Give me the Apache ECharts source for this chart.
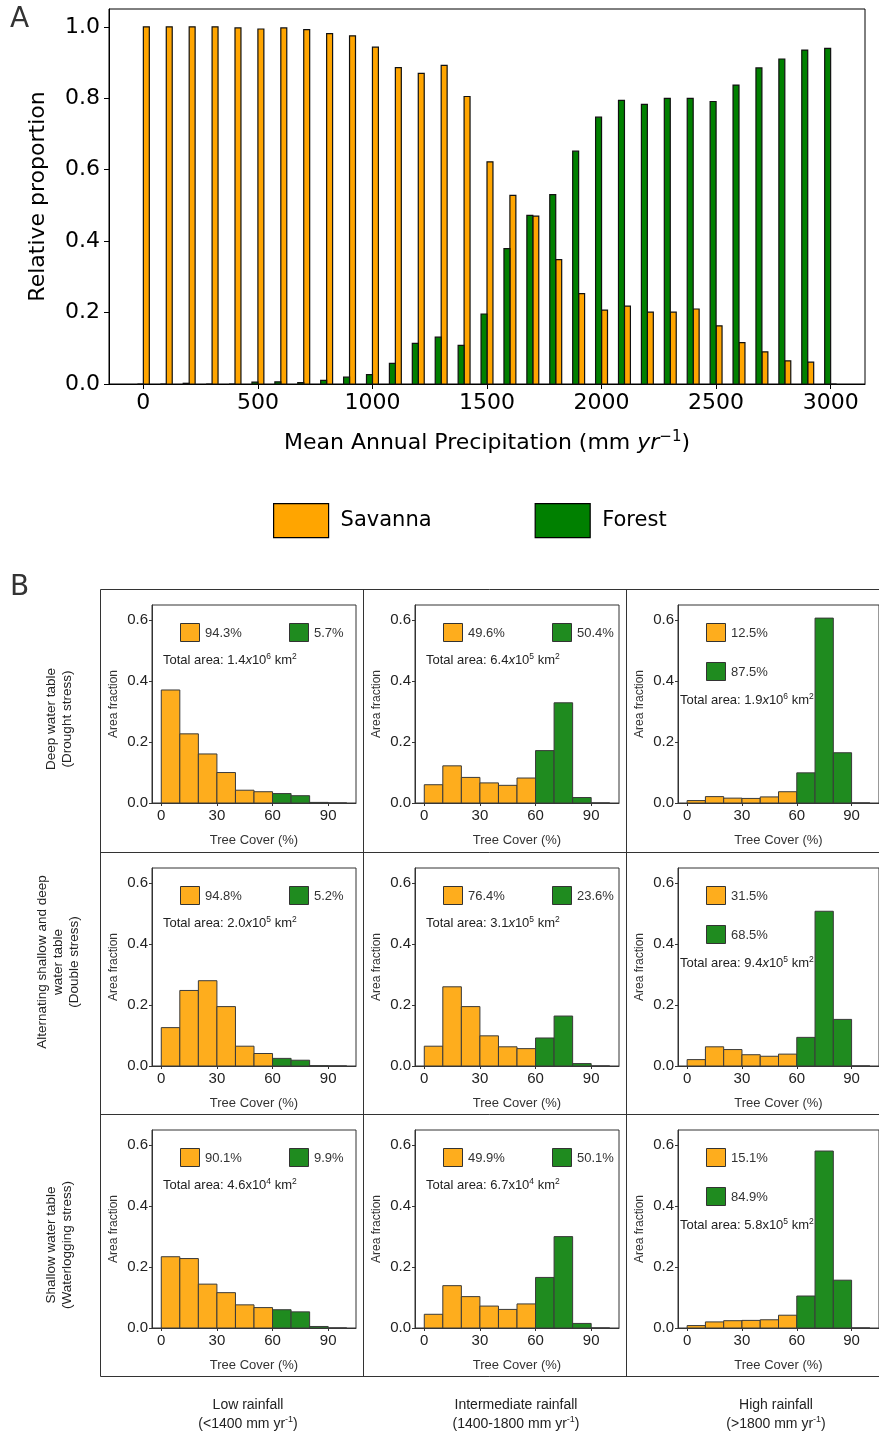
<!DOCTYPE html>
<html><head><meta charset="utf-8">
<script src="https://cdn.jsdelivr.net/npm/echarts@6/dist/echarts.min.js"></script>
<style>html,body{margin:0;padding:0;background:#fff}#c{width:879px;height:1433px}</style>
</head><body><div id="c"></div>
<script>
// ---------- Panel A data ----------
const PRECIP = [0,100,200,300,400,500,600,700,800,900,1000,1100,1200,1300,1400,1500,1600,1700,1800,1900,2000,2100,2200,2300,2400,2500,2600,2700,2800,2900,3000];
const SAVANNA = [1.000,1.000,1.000,1.000,0.997,0.994,0.997,0.992,0.981,0.975,0.943,0.886,0.870,0.892,0.805,0.622,0.528,0.470,0.348,0.253,0.207,0.218,0.201,0.201,0.210,0.163,0.116,0.090,0.065,0.061,0.000];
const FOREST  = [0.000,0.000,0.002,0.000,0.000,0.005,0.006,0.004,0.010,0.019,0.026,0.058,0.114,0.131,0.108,0.196,0.379,0.472,0.530,0.652,0.747,0.794,0.783,0.800,0.800,0.791,0.837,0.885,0.910,0.935,0.940];
const A_X_TICKS = [0,500,1000,1500,2000,2500,3000];
const A_Y_TICKS = [0,0.2,0.4,0.6,0.8,1.0];

// ---------- Panel B data ----------
const TREE_BINS = [0,10,20,30,40,50,60,70,80,90];
const B_X_TICKS = [0,30,60,90];
const B_Y_TICKS = [0,0.2,0.4,0.6];
const DEEP_LOW     = [0.371,0.227,0.161,0.100,0.042,0.037,0.031,0.024,0.002,0];
const DEEP_MID     = [0.060,0.122,0.084,0.066,0.058,0.082,0.172,0.329,0.018,0];
const DEEP_HIGH    = [0.008,0.021,0.016,0.015,0.020,0.037,0.099,0.607,0.165,0];
const DOUBLE_LOW   = [0.126,0.248,0.280,0.195,0.065,0.041,0.025,0.019,0.001,0];
const DOUBLE_MID   = [0.065,0.260,0.195,0.099,0.063,0.057,0.092,0.164,0.008,0];
const DOUBLE_HIGH  = [0.021,0.063,0.054,0.037,0.032,0.039,0.094,0.508,0.153,0];
const SHALLOW_LOW  = [0.234,0.228,0.144,0.116,0.076,0.067,0.060,0.053,0.005,0];
const SHALLOW_MID  = [0.045,0.139,0.103,0.072,0.061,0.079,0.166,0.300,0.015,0];
const SHALLOW_HIGH = [0.008,0.020,0.024,0.025,0.027,0.042,0.105,0.581,0.157,0];
const SAV_PCT = ['94.3%','49.6%','12.5%','94.8%','76.4%','31.5%','90.1%','49.9%','15.1%'];
const FOR_PCT = ['5.7%','50.4%','87.5%','5.2%','23.6%','68.5%','9.9%','50.1%','84.9%'];
const AREA_MANT = ['1.4','6.4','1.9','2.0','3.1','9.4','4.6','6.7','5.8'];
const AREA_EXP  = ['6','5','6','5','5','5','4','4','5'];
const ROW_LABELS = ['Deep water table\n(Drought stress)', 'Alternating shallow and deep\nwater table\n(Double stress)', 'Shallow water table\n(Waterlogging stress)'];
const COL_LABELS_1 = ['Low rainfall','Intermediate rainfall','High rainfall'];
const COL_LABELS_2 = ['(<1400 mm yr','(1400-1800 mm yr','(>1800 mm yr'];

const PANELS = [DEEP_LOW, DEEP_MID, DEEP_HIGH, DOUBLE_LOW, DOUBLE_MID, DOUBLE_HIGH, SHALLOW_LOW, SHALLOW_MID, SHALLOW_HIGH];

// ---------- styling / layout ----------
const FA = 'DejaVu Sans';
const FB = 'Liberation Sans, Arial, sans-serif';
const A_ORANGE = '#FFA500', A_GREEN = '#008000';
const B_ORANGE = '#FEAD1D', B_GREEN = '#1F8B1F';
const COL_LEFT = [152, 415, 678];
const ROW_TOP = [605, 868, 1130];
const GW = 204, GH = 198;

const chart = echarts.init(document.getElementById('c'), null, {renderer:'canvas', width:879, height:1433});

const grids = [{left:109, top:9, width:756, height:375, show:true, borderColor:'#000', borderWidth:1, backgroundColor:'transparent'}];
const xAxes = [{
  gridIndex:0, type:'value', min:-150, max:3150,
  axisLine:{show:true, onZero:false, lineStyle:{color:'#000', width:1}},
  splitLine:{show:false},
  axisTick:{show:true, inside:false, length:5, lineStyle:{color:'#000'}, customValues:A_X_TICKS},
  axisLabel:{customValues:A_X_TICKS, fontSize:22, fontFamily:FA, color:'#000', margin:8, formatter:v=>String(v)},
  name:'{a|Mean Annual Precipitation (mm }{i|yr}{s|−1}{a|)}',
  nameLocation:'middle', nameGap:46,
  nameTextStyle:{rich:{
    a:{fontSize:22, fontFamily:FA, color:'#000', lineHeight:26},
    i:{fontSize:22, fontFamily:FA, fontStyle:'italic', color:'#000', lineHeight:26},
    s:{fontSize:15, fontFamily:FA, color:'#000', lineHeight:15, verticalAlign:'top'}
  }}
}];
const yAxes = [{
  gridIndex:0, type:'value', min:0, max:1.05,
  axisLine:{show:true, onZero:false, lineStyle:{color:'#000', width:1}},
  splitLine:{show:false},
  axisTick:{show:true, inside:false, length:5, lineStyle:{color:'#000'}, customValues:A_Y_TICKS},
  axisLabel:{customValues:A_Y_TICKS, fontSize:22, fontFamily:FA, color:'#000', margin:9, formatter:v=>v.toFixed(1)},
  name:'Relative proportion', nameLocation:'middle', nameGap:60,
  nameTextStyle:{fontSize:22, fontFamily:FA, color:'#000'}
}];

const W = 26;
function aBar(color, left){
  return function(params, api){
    const x = api.value(0), y = api.value(1);
    const x0 = left ? x - W : x, x1 = left ? x : x + W;
    const p0 = api.coord([x0, y]);
    const p1 = api.coord([x1, 0]);
    return {type:'rect', shape:{x:p0[0], y:p0[1], width:p1[0]-p0[0], height:p1[1]-p0[1]},
            style:{fill:color, stroke:'#111', lineWidth:1.2}};
  };
}
const series = [
  {name:'Savanna', type:'custom', xAxisIndex:0, yAxisIndex:0, renderItem:aBar(A_ORANGE,false),
   data:PRECIP.map((p,i)=>[p, SAVANNA[i]]), itemStyle:{color:A_ORANGE}, silent:true},
  {name:'Forest', type:'custom', xAxisIndex:0, yAxisIndex:0, renderItem:aBar(A_GREEN,true),
   data:PRECIP.map((p,i)=>[p, FOREST[i]]), itemStyle:{color:A_GREEN}, silent:true}
];

function bBar(params, api){
  const x = api.value(0), y = api.value(1);
  const p0 = api.coord([x, y]);
  const p1 = api.coord([x + 10, 0]);
  return {type:'rect', shape:{x:p0[0], y:p0[1], width:p1[0]-p0[0], height:p1[1]-p0[1]},
          style:{fill: x < 60 ? B_ORANGE : B_GREEN, stroke:'#3a3a3a', lineWidth:1}};
}

const graphics = [];
graphics.push({type:'text', x:10, y:6, style:{text:'A', fontSize:28, fontFamily:FA, fill:'#333'}});
graphics.push({type:'text', x:10, y:574, style:{text:'B', fontSize:28, fontFamily:FA, fill:'#333'}});

// Panel B frame lines
const frameStyle = {stroke:'#333', lineWidth:1};
[589.5, 852.5, 1114.5, 1376.5].forEach(y => graphics.push({type:'line', shape:{x1:100.5, y1:y, x2:879, y2:y}, style:frameStyle}));
[100.5, 363.5, 626.5].forEach(x => graphics.push({type:'line', shape:{x1:x, y1:589.5, x2:x, y2:1376.5}, style:frameStyle}));

PANELS.forEach((vals, k) => {
  const r = Math.floor(k/3), c = k % 3;
  const gi = k + 1;
  const L = COL_LEFT[c], T = ROW_TOP[r];
  grids.push({left:L, top:T, width:GW, height:GH, show:true, borderColor:'#333', borderWidth:1, backgroundColor:'transparent'});
  xAxes.push({
    gridIndex:gi, type:'value', min:-5, max:105,
    axisLine:{show:true, onZero:false, lineStyle:{color:'#333', width:1}},
    splitLine:{show:false},
    axisTick:{show:true, inside:false, length:3, lineStyle:{color:'#333'}, customValues:B_X_TICKS},
    axisLabel:{customValues:B_X_TICKS, fontSize:15, fontFamily:FB, color:'#222', margin:5},
    name:'Tree Cover (%)', nameLocation:'middle', nameGap:31,
    nameTextStyle:{fontSize:13, fontFamily:FB, color:'#333'}
  });
  yAxes.push({
    gridIndex:gi, type:'value', min:0, max:0.65,
    axisLine:{show:true, onZero:false, lineStyle:{color:'#333', width:1}},
    splitLine:{show:false},
    axisTick:{show:true, inside:false, length:3, lineStyle:{color:'#333'}, customValues:B_Y_TICKS},
    axisLabel:{customValues:B_Y_TICKS, fontSize:15, fontFamily:FB, color:'#222', margin:4, formatter:v=>v.toFixed(1)},
    name:'Area fraction', nameLocation:'middle', nameGap:32,
    nameTextStyle:{fontSize:12, fontFamily:FB, color:'#333'}
  });
  series.push({type:'custom', xAxisIndex:gi, yAxisIndex:gi, renderItem:bBar,
    data:TREE_BINS.map((b,i)=>[b, vals[i]]), silent:true});

  // panel legend
  const vertical = (c === 2);
  const ob = {x:L+28, y:T+18}, gb = vertical ? {x:L+28, y:T+57} : {x:L+137, y:T+18};
  graphics.push({type:'rect', shape:{x:ob.x+0.5, y:ob.y+0.5, width:19, height:18}, style:{fill:B_ORANGE, stroke:'#333', lineWidth:1}});
  graphics.push({type:'rect', shape:{x:gb.x+0.5, y:gb.y+0.5, width:19, height:18}, style:{fill:B_GREEN, stroke:'#333', lineWidth:1}});
  graphics.push({type:'text', x:ob.x+25, y:ob.y+10, style:{text:SAV_PCT[k], fontSize:13, fontFamily:FB, fill:'#333', verticalAlign:'middle'}});
  graphics.push({type:'text', x:gb.x+25, y:gb.y+10, style:{text:FOR_PCT[k], fontSize:13, fontFamily:FB, fill:'#333', verticalAlign:'middle'}});
  const italicX = r < 2;
  graphics.push({type:'text', x: vertical ? L+2 : L+11, y: vertical ? T+95 : T+55,
    style:{text:'{t|Total area: ' + AREA_MANT[k] + '}{x|x}{t|10}{s|' + AREA_EXP[k] + '}{t| km}{s|2}',
      verticalAlign:'middle',
      rich:{
        t:{fontSize:13, fontFamily:FB, fill:'#222', lineHeight:16},
        x:{fontSize:13, fontFamily:FB, fill:'#222', lineHeight:16, fontStyle: italicX ? 'italic' : 'normal'},
        s:{fontSize:8.5, fontFamily:FB, fill:'#222', lineHeight:9, verticalAlign:'top'}
      }}});
});

// row labels
const ROW_CX = [59, 58, 59], ROW_CY = [719, 962, 1245];
ROW_LABELS.forEach((t, i) => graphics.push({type:'text', x:ROW_CX[i], y:ROW_CY[i], rotation:Math.PI/2,
  style:{text:t, fontSize:13.5, fontFamily:FB, fill:'#222', align:'center', verticalAlign:'middle', lineHeight:16}}));
// column labels
const COL_CX = [248, 516, 776];
COL_LABELS_1.forEach((t, i) => {
  graphics.push({type:'text', x:COL_CX[i], y:1405, style:{text:t, fontSize:14, fontFamily:FB, fill:'#222', align:'center', verticalAlign:'middle'}});
  graphics.push({type:'text', x:COL_CX[i], y:1424, style:{text:'{t|' + COL_LABELS_2[i] + '}{s|-1}{t|)}', align:'center', verticalAlign:'middle',
    rich:{t:{fontSize:14, fontFamily:FB, fill:'#222', lineHeight:17}, s:{fontSize:9, fontFamily:FB, fill:'#222', lineHeight:10, verticalAlign:'top'}}}});
});

chart.setOption({
  animation:false,
  backgroundColor:'#fff',
  grid:grids, xAxis:xAxes, yAxis:yAxes, series:series,
  legend:{show:true, left:273, top:503, padding:0, orient:'horizontal', icon:'rect', itemWidth:55, itemHeight:34, itemGap:103,
    selectedMode:false,
    textStyle:{fontSize:21, fontFamily:FA, color:'#000', padding:[0,0,0,7]},
    data:[{name:'Savanna', itemStyle:{color:A_ORANGE, borderColor:'#000', borderWidth:1.2}},
          {name:'Forest', itemStyle:{color:A_GREEN, borderColor:'#000', borderWidth:1.2}}]},
  graphic:{elements:graphics}
});
</script></body></html>
